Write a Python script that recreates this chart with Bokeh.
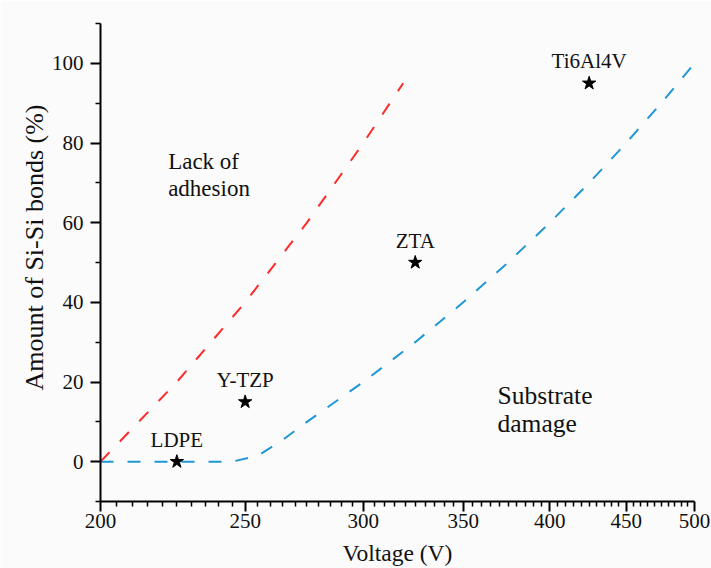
from bokeh.plotting import figure
from bokeh.models import Range1d, FixedTicker, PrintfTickFormatter, ColumnDataSource, Title
from bokeh.core.properties import value
from bokeh.embed import file_html
from bokeh.resources import INLINE

# ---- data ----
red_voltage = [200, 225, 250, 275, 300, 319]
red_si = [0, 20, 40, 60, 80, 95]

blue_voltage = [200, 225, 245, 255, 265, 275, 300, 325, 350, 375, 400, 425, 450, 475, 500]
blue_si = [0, 0, 0, 1.5, 5.5, 10, 20, 30, 40, 50, 60, 70, 80, 90, 100]

materials = ["LDPE", "Y-TZP", "ZTA", "Ti6Al4V"]
mat_voltage = [225, 250, 325, 425]
mat_si = [0, 15, 50, 95]

region1_text = ["Lack of", "adhesion"]
region1_voltage = [222, 222]
region1_si = [73.2, 66.4]

region2_text = ["Substrate", "damage"]
region2_voltage = [369, 369]
region2_si = [14.4, 7.4]

x_ticks = [200, 250, 300, 350, 400, 450, 500]
x_minor = [v for v in range(205, 500, 5) if v not in x_ticks]
y_ticks = [0, 20, 40, 60, 80, 100]
y_minor = [-10, 10, 30, 50, 70, 90, 110]

FONT = "Liberation Serif"
BG = "#fbfbfb"
TXT = "#111111"

p = figure(width=711, height=568, x_axis_type="log",
           x_range=Range1d(200, 500), y_range=Range1d(-10, 110),
           output_backend="svg", toolbar_location=None,
           min_border_left=100, min_border_right=17,
           min_border_top=23, min_border_bottom=67,
           background_fill_color=BG, border_fill_color=BG)
p.outline_line_color = None
p.grid.visible = False

p.line(red_voltage, red_si, line_color="#ff2b2b", line_width=2, line_dash="13 15")
p.line(blue_voltage, blue_si, line_color="#1f97d4", line_width=2, line_dash="13 14")

msrc = ColumnDataSource(dict(x=mat_voltage, y=mat_si, t=materials))
p.scatter("x", "y", source=msrc, marker="star", size=14, fill_color="black",
          line_color="black")
p.text("x", "y", text="t", source=msrc, text_font=value(FONT), text_font_size="21px",
       text_align="center", text_baseline="alphabetic", y_offset=-22, text_color=TXT)

r1 = ColumnDataSource(dict(x=region1_voltage, y=region1_si, t=region1_text))
p.text("x", "y", text="t", source=r1, text_font=value(FONT), text_font_size="23px",
       text_align="left", text_baseline="alphabetic", y_offset=-9, text_color=TXT)

r2 = ColumnDataSource(dict(x=region2_voltage, y=region2_si, t=region2_text))
p.text("x", "y", text="t", source=r2, text_font=value(FONT), text_font_size="25.5px",
       text_align="left", text_baseline="alphabetic", y_offset=-9, text_color=TXT)

for ax in (p.xaxis[0], p.yaxis[0]):
    ax.axis_line_width = 2
    ax.major_tick_line_width = 2
    ax.minor_tick_line_width = 1.5
    ax.major_tick_out = 10
    ax.major_tick_in = 0
    ax.minor_tick_out = 5
    ax.minor_tick_in = 0
    ax.major_label_text_font = FONT
    ax.major_label_text_font_size = "21px"
    ax.major_label_text_color = TXT
    ax.axis_label_text_font = FONT
    ax.axis_label_text_font_style = "normal"
    ax.axis_label_text_color = TXT

p.xaxis.axis_label_text_font_size = "23.5px"
p.xaxis.ticker = FixedTicker(ticks=x_ticks, minor_ticks=x_minor)
p.xaxis.formatter = PrintfTickFormatter(format="%d")
p.yaxis.ticker = FixedTicker(ticks=y_ticks, minor_ticks=y_minor)
p.xaxis.axis_label = "Voltage (V)"
p.xaxis.major_label_standoff = 2
p.xaxis.axis_label_standoff = 9
p.yaxis.major_label_standoff = 7

ytitle = Title(text="Amount of Si-Si bonds (%)", align="left", offset=111,
               text_font=FONT, text_font_size="26px", text_font_style="normal",
               text_color=TXT, standoff=0)
p.add_layout(ytitle, "left")

open("out.html", "w").write(file_html(p, INLINE))
